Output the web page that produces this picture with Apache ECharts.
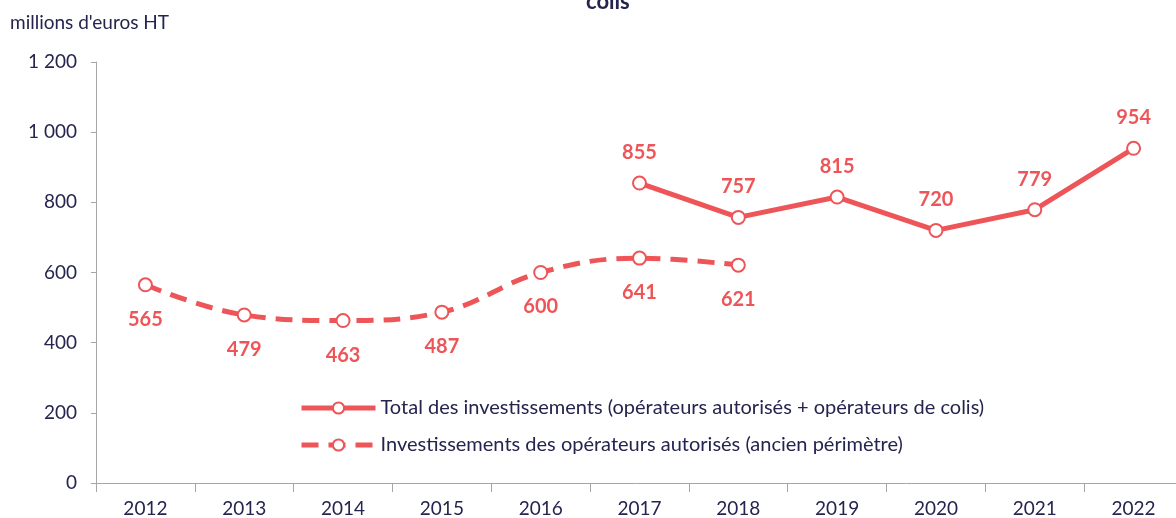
<!DOCTYPE html>
<html>
<head>
<meta charset="utf-8">
<script src="https://cdn.jsdelivr.net/npm/echarts@6/dist/echarts.min.js"></script>
<style>
  html, body { margin: 0; padding: 0; background: #fff; }
  #chart { width: 1176px; height: 518px; }
</style>
</head>
<body>
<div id="chart"></div>
<script>
// années
const years = ['2012', '2013', '2014', '2015', '2016', '2017', '2018', '2019', '2020', '2021', '2022'];
// total (opérateurs autorisés + colis), à partir de 2017
const totalInvest = [null, null, null, null, null, 855, 757, 815, 720, 779, 954];
// ancien périmètre
const ancienInvest = [565, 479, 463, 487, 600, 641, 621, null, null, null, null];
const yTicks = [0, 200, 400, 600, 800, 1000, 1200];

const RED = '#ee5558';
const TXT = '#24244f';
const FONT = 'Lato';

function fmt(v) {
	// séparateur de milliers en espace
	return String(v).replace(/\B(?=(\d{3})+(?!\d))/g, ' ');
}

var myChart = echarts.init(document.getElementById('chart'));
var option = {
	textStyle: { fontFamily: FONT },
	title: {
		text: 'colis',
		left: 581,
		top: -14,
		textStyle: { fontFamily: FONT, fontSize: 22, fontWeight: 'bold', color: TXT }
	},
	// la dernière bande dépasse à droite du cadre
	grid: { left: 96, top: 62, width: 1087, height: 421, outerBoundsMode: 'none', containLabel: false },
	legend: {
		orient: 'vertical',
		left: 294,
		top: 393,
		itemWidth: 74,
		itemHeight: 14,
		itemGap: 17,
		lineStyle: { width: 5 },
		textStyle: { fontFamily: FONT, fontSize: 20, color: TXT },
		data: ['Total des investissements (opérateurs autorisés + opérateurs de colis)',
			'Investissements des opérateurs autorisés (ancien périmètre)']
	},
	xAxis: {
		type: 'category',
		data: years,
		boundaryGap: true,
		axisLine: { lineStyle: { color: '#a6a6a6', width: 1 } },
		axisTick: { show: true, length: 9, lineStyle: { color: '#a6a6a6' } },
		axisLabel: { fontFamily: FONT, fontSize: 19, color: TXT, margin: 16 }
	},
	yAxis: {
		type: 'value',
		min: 0,
		max: 1200,
		interval: 200,
		name: "millions d'euros HT",
		nameLocation: 'end',
		nameGap: 30,
		nameTextStyle: { fontFamily: FONT, fontSize: 19, color: TXT, align: 'left', padding: [0, 0, 0, -86] },
		axisLine: { show: true, lineStyle: { color: '#a6a6a6', width: 1 } },
		axisTick: { show: true, length: 5, lineStyle: { color: '#a6a6a6' } },
		splitLine: { show: false },
		axisLabel: {
			fontFamily: FONT, fontSize: 19, color: TXT, margin: 19,
			formatter: function (v) { return yTicks.indexOf(v) >= 0 ? fmt(v) : ''; }
		}
	},
	series: [
		{
			name: 'Total des investissements (opérateurs autorisés + opérateurs de colis)',
			type: 'line',
			data: totalInvest,
			symbol: 'emptyCircle',
			symbolSize: 13,
			itemStyle: { color: RED, borderColor: RED, borderWidth: 1.5 },
			lineStyle: { color: RED, width: 5 },
			label: {
				show: true, position: 'top', distance: 13,
				fontFamily: FONT, fontSize: 20, fontWeight: 'bold', color: RED
			}
		},
		{
			name: 'Investissements des opérateurs autorisés (ancien périmètre)',
			type: 'line',
			data: ancienInvest,
			smooth: 0.4,
			symbol: 'emptyCircle',
			symbolSize: 13,
			itemStyle: { color: RED, borderColor: RED, borderWidth: 1.5 },
			lineStyle: { color: RED, width: 5, type: [17, 10] },
			label: {
				show: true, position: 'bottom', distance: 17,
				fontFamily: FONT, fontSize: 20, fontWeight: 'bold', color: RED
			}
		}
	]
};
myChart.setOption(option);
</script>
</body>
</html>
